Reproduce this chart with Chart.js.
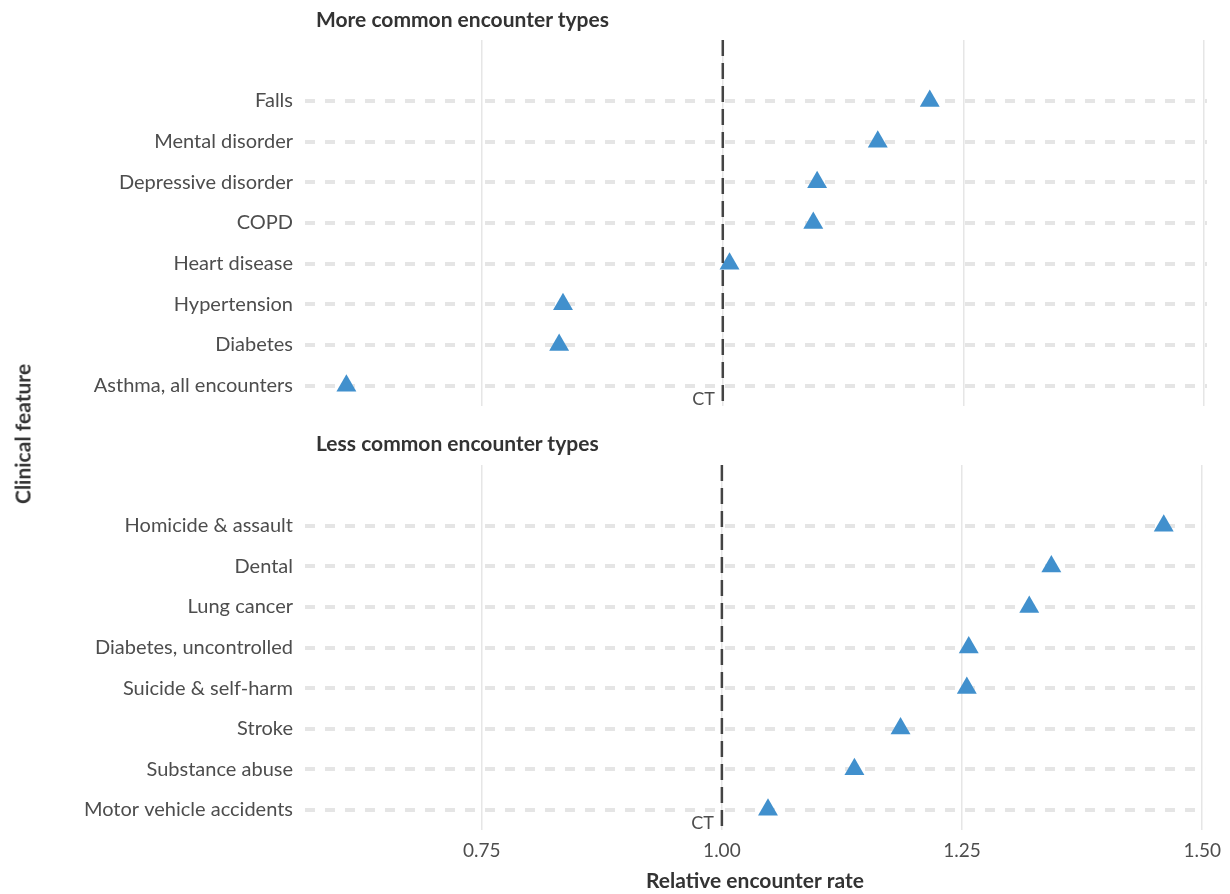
<!DOCTYPE html>
<html>
<head>
<meta charset="utf-8">
<script src="https://cdn.jsdelivr.net/npm/chart.js@4.4.1/dist/chart.umd.min.js"></script>
<style>
  body { margin: 0; background: #fff; font-family: Lato, sans-serif; }
  #wrap { position: relative; width: 1230px; height: 894px; overflow: hidden; }
  .panel { position: absolute; left: 0; width: 1230px; }
  .ptitle { position: absolute; left: 316px; font-weight: bold; font-size: 21px; line-height: 25px; color: #333; }
  #ytitle { position: absolute; left: 22px; top: 434px; transform: translate(-50%, -50%) rotate(-90deg);
            font-weight: bold; font-size: 21px; color: #333; white-space: nowrap; }
</style>
</head>
<body>
<div id="wrap">
  <div class="panel" style="top:0;height:430px"><canvas id="moreChart"></canvas></div>
  <div class="panel" style="top:425px;height:469px"><canvas id="lessChart"></canvas></div>
  <div class="ptitle" style="top:6px">More common encounter types</div>
  <div class="ptitle" style="top:430px">Less common encounter types</div>
  <div id="ytitle">Clinical feature</div>
</div>
<script>
// Data
const moreLabels = ["Falls", "Mental disorder", "Depressive disorder", "COPD", "Heart disease", "Hypertension", "Diabetes", "Asthma, all encounters"];
const moreValues = [1.215, 1.161, 1.098, 1.094, 1.007, 0.834, 0.830, 0.609];

const lessLabels = ["Homicide & assault", "Dental", "Lung cancer", "Diabetes, uncontrolled", "Suicide & self-harm", "Stroke", "Substance abuse", "Motor vehicle accidents"];
const lessValues = [1.460, 1.343, 1.320, 1.257, 1.255, 1.186, 1.138, 1.048];

const xTicks = [0.75, 1.0, 1.25, 1.5];
const refValue = 1.0;
const refLabel = "CT";

const FONT = "Lato, sans-serif";
const MARK_COLOR = "#4190cd";

// draws the dashed CT reference line + its label
const refLinePlugin = {
  id: "refLine",
  afterDatasetsDraw(chart) {
    const { ctx, chartArea, scales } = chart;
    const xp = scales.x.getPixelForValue(refValue);
    ctx.save();
    ctx.strokeStyle = "#444";
    ctx.lineWidth = 2.5;
    ctx.setLineDash([16, 7]);
    ctx.beginPath();
    ctx.moveTo(xp, chartArea.top);
    ctx.lineTo(xp, chartArea.bottom);
    ctx.stroke();
    ctx.setLineDash([]);
    ctx.fillStyle = "#4d4d4d";
    ctx.font = "18px " + FONT;
    ctx.textAlign = "right";
    ctx.textBaseline = "alphabetic";
    ctx.fillText(refLabel, xp - 8, chartArea.bottom - 1);
    ctx.restore();
  },
};

function makeChart(canvasId, labels, values, showX) {
  const ctx = document.getElementById(canvasId);
  return new Chart(ctx, {
    type: "scatter",
    data: {
      datasets: [
        {
          data: values.map((v, i) => ({ x: v, y: i })),
          pointStyle: "triangle",
          pointRadius: 11.5,
          pointHoverRadius: 11.5,
          backgroundColor: MARK_COLOR,
          borderColor: MARK_COLOR,
          borderWidth: 0,
        },
      ],
    },
    options: {
      responsive: true,
      maintainAspectRatio: false,
      animation: false,
      layout: { padding: { top: 40, right: 23, bottom: 0, left: 0 } },
      plugins: {
        legend: { display: false },
        tooltip: { enabled: false },
      },
      scales: {
        x: {
          type: "linear",
          min: 0.566,
          max: 1.503,
          afterBuildTicks: (s) => {
            s.ticks = xTicks.map((v) => ({ value: v }));
          },
          afterFit: (s) => {
            s.height = showX ? 64 : 12;
          },
          grid: { color: "#e6e6e6", lineWidth: 1.5, drawTicks: false },
          border: { display: false },
          ticks: {
            display: showX,
            padding: 9,
            color: "#4d4d4d",
            font: { family: FONT, size: 19 },
            callback: (v) => Number(v).toFixed(2),
          },
          title: {
            display: showX,
            text: "Relative encounter rate",
            color: "#333",
            font: { family: FONT, size: 21, weight: "bold" },
            padding: { top: 2, bottom: 0 },
          },
        },
        y: {
          type: "linear",
          reverse: true,
          min: -1.5,
          max: 7.5,
          afterBuildTicks: (s) => {
            s.ticks = labels.map((_, i) => ({ value: i }));
          },
          afterFit: (s) => {
            s.width = 305;
          },
          grid: { color: "#e5e5e5", lineWidth: 4, drawTicks: false },
          border: { display: false, dash: [10, 10] },
          ticks: {
            padding: 12,
            color: "#4d4d4d",
            font: { family: FONT, size: 20 },
            callback: (v) => labels[v] ?? "",
          },
        },
      },
    },
    plugins: [refLinePlugin],
  });
}

makeChart("moreChart", moreLabels, moreValues, false);
makeChart("lessChart", lessLabels, lessValues, true);
</script>
</body>
</html>
